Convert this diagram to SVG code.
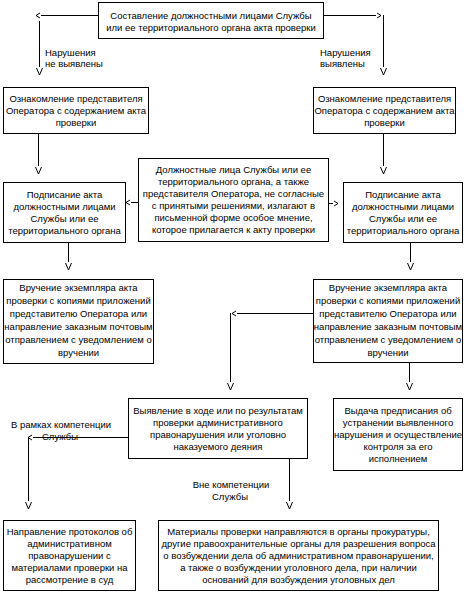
<svg xmlns="http://www.w3.org/2000/svg" width="466" height="594" viewBox="0 0 466 594">
<style>
.box{fill:#fff;stroke:#000;stroke-width:1}
.t{font-family:"Liberation Sans",Arial,sans-serif;font-size:9.5px;fill:#000;text-anchor:middle}
.l{font-family:"Liberation Sans",Arial,sans-serif;font-size:9.5px;fill:#000}
.c{stroke:#000;stroke-width:1;fill:none}
.v{marker-end:url(#av)}
.s{marker-end:url(#as)}
</style>
<defs>
<marker id="av" markerUnits="userSpaceOnUse" orient="auto" markerWidth="10" markerHeight="10" refX="-1" refY="5" viewBox="0 0 10 10" overflow="visible">
<path d="M0,2 L7,5 L0,8" fill="none" stroke="#000" stroke-width="1"/>
</marker>
<marker id="as" markerUnits="userSpaceOnUse" orient="auto" markerWidth="10" markerHeight="10" refX="-1" refY="5" viewBox="0 0 10 10" overflow="visible">
<path d="M0,2.5 L4,5 L0,7.5" fill="none" stroke="#000" stroke-width="1"/>
</marker>
</defs>
<rect width="466" height="594" fill="#fff"/>
<g id="connectors">
<path class="c s" d="M98,15.5 H41"/>
<path class="c v" d="M39.5,21 V67"/>
<path class="c s" d="M323,15.5 H376"/>
<path class="c v" d="M383.5,15 V67"/>
<path class="c v" d="M38.5,133 V166"/>
<path class="c v" d="M383.5,133 V166"/>
<path class="c s" d="M138,202.5 H131"/>
<path class="c s" d="M328,203.5 H333"/>
<path class="c v" d="M68.5,242 V262"/>
<path class="c v" d="M410.5,242 V262"/>
<path class="c s" d="M313,313.5 H237"/>
<path class="c v" d="M230.5,313 V382"/>
<path class="c v" d="M409.5,362 V382"/>
<path class="c s" d="M128,437.5 H33"/>
<path class="c v" d="M28.5,437 V501"/>
<path class="c v" d="M289.5,458 V501"/>
</g>
<g id="labels">
<text class="l" x="45" y="56">Нарушения</text>
<text class="l" x="45" y="67">не выявлены</text>
<text class="l" x="320" y="56">Нарушения</text>
<text class="l" x="320" y="67">выявлены</text>
<text class="t" x="61" y="428">В рамках компетенции</text>
<text class="t" x="60" y="440">Службы</text>
<text class="t" x="231" y="488">Вне компетенции</text>
<text class="t" x="230" y="500">Службы</text>
</g>
<g id="n1">
<rect class="box" x="98.5" y="2.5" width="225" height="36"/>
<text class="t" x="211" y="19">Составление должностными лицами Службы</text>
<text class="t" x="211" y="31">или ее территориального органа акта проверки</text>
</g>
<g id="n2">
<rect class="box" x="3.5" y="87.5" width="145" height="46"/>
<text class="t" x="76" y="101.5">Ознакомление представителя</text>
<text class="t" x="76" y="113.5">Оператора с содержанием акта</text>
<text class="t" x="76" y="125.5">проверки</text>
</g>
<g id="n3">
<rect class="box" x="313.5" y="87.5" width="142" height="46"/>
<text class="t" x="384.5" y="101.5">Ознакомление представителя</text>
<text class="t" x="384.5" y="113.5">Оператора с содержанием акта</text>
<text class="t" x="384.5" y="125.5">проверки</text>
</g>
<g id="n4">
<rect class="box" x="138.5" y="158.5" width="190" height="83"/>
<text class="t" x="233.5" y="173">Должностные лица Службы или ее</text>
<text class="t" x="233.5" y="185">территориального органа, а также</text>
<text class="t" x="233.5" y="197">представителя Оператора, не согласные</text>
<text class="t" x="233.5" y="209">с принятыми решениями, излагают в</text>
<text class="t" x="233.5" y="221">письменной форме особое мнение,</text>
<text class="t" x="233.5" y="233">которое прилагается к акту проверки</text>
</g>
<g id="n5">
<rect class="box" x="3.5" y="182.5" width="122" height="60"/>
<text class="t" x="64.5" y="197.5">Подписание акта</text>
<text class="t" x="64.5" y="209.5">должностными лицами</text>
<text class="t" x="64.5" y="221.5">Службы или ее</text>
<text class="t" x="64.5" y="233.5">территориального органа</text>
</g>
<g id="n6">
<rect class="box" x="343.5" y="182.5" width="119" height="60"/>
<text class="t" x="403" y="197.5">Подписание акта</text>
<text class="t" x="403" y="209.5">должностными лицами</text>
<text class="t" x="403" y="221.5">Службы или ее</text>
<text class="t" x="403" y="233.5">территориального органа</text>
</g>
<g id="n7">
<rect class="box" x="3.5" y="279.5" width="150" height="84"/>
<text class="t" x="78.5" y="291">Вручение экземпляра акта</text>
<text class="t" x="78.5" y="304">проверки с копиями приложений</text>
<text class="t" x="78.5" y="317">представителю Оператора или</text>
<text class="t" x="78.5" y="330">направление заказным почтовым</text>
<text class="t" x="78.5" y="343">отправлением с уведомлением о</text>
<text class="t" x="78.5" y="356">вручении</text>
</g>
<g id="n8">
<rect class="box" x="313.5" y="279.5" width="149" height="83"/>
<text class="t" x="388" y="291">Вручение экземпляра акта</text>
<text class="t" x="388" y="304">проверки с копиями приложений</text>
<text class="t" x="388" y="317">представителю Оператора или</text>
<text class="t" x="388" y="330">направление заказным почтовым</text>
<text class="t" x="388" y="343">отправлением с уведомлением о</text>
<text class="t" x="388" y="356">вручении</text>
</g>
<g id="n9">
<rect class="box" x="128.5" y="398.5" width="179" height="60"/>
<text class="t" x="218" y="414">Выявление в ходе или по результатам</text>
<text class="t" x="218" y="426">проверки административного</text>
<text class="t" x="218" y="438">правонарушения или уголовно</text>
<text class="t" x="218" y="450">наказуемого деяния</text>
</g>
<g id="n10">
<rect class="box" x="333.5" y="398.5" width="129" height="72"/>
<text class="t" x="398" y="414">Выдача предписания об</text>
<text class="t" x="398" y="426">устранении выявленного</text>
<text class="t" x="398" y="438">нарушения и осуществление</text>
<text class="t" x="398" y="450">контроля за его</text>
<text class="t" x="398" y="462">исполнением</text>
</g>
<g id="n11">
<rect class="box" x="3.5" y="520.5" width="132" height="70"/>
<text class="t" x="69.5" y="534.5">Направление протоколов об</text>
<text class="t" x="69.5" y="546.5">административном</text>
<text class="t" x="69.5" y="558.5">правонарушении с</text>
<text class="t" x="69.5" y="570.5">материалами проверки на</text>
<text class="t" x="69.5" y="582.5">рассмотрение в суд</text>
</g>
<g id="n12">
<rect class="box" x="158.5" y="520.5" width="280" height="70"/>
<text class="t" x="298.5" y="534.5">Материалы проверки направляются в органы прокуратуры,</text>
<text class="t" x="298.5" y="546.5">другие правоохранительные органы для разрешения вопроса</text>
<text class="t" x="298.5" y="558.5">о возбуждении дела об административном правонарушении,</text>
<text class="t" x="298.5" y="570.5">а также о возбуждении уголовного дела, при наличии</text>
<text class="t" x="298.5" y="582.5">оснований для возбуждения уголовных дел</text>
</g>
</svg>
